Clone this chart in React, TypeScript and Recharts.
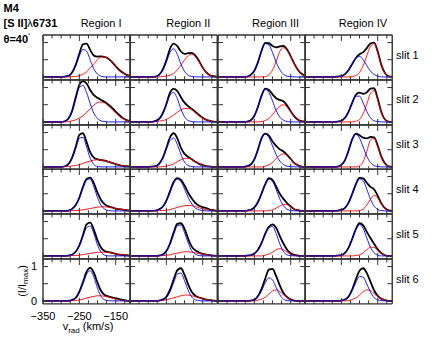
import { Line, LineChart, XAxis, YAxis } from "recharts";

// radial velocity grid (km/s) shared by every profile
const vRad = [-350, -300, -290, -280, -270, -260, -250, -240, -230, -220, -210, -200, -190, -180, -170, -160, -150, -140, -130, -120, -110];

const regions = ["Region I", "Region II", "Region III", "Region IV"];
const slits = ["slit 1", "slit 2", "slit 3", "slit 4", "slit 5", "slit 6"];

const xTickValues = [-350, -325, -300, -275, -250, -225, -200, -175, -150, -125];
const xMajor = [-350, -250, -150];
const yTickValues = [0, 0.5, 1];
const xLabels = [-350, -250, -150];
const yLabels = [0, 1];

// each slit: one profile per region (I..IV)
const slit1Total = [
  [0, 0, 0.01, 0.03, 0.13, 0.35, 0.68, 0.95, 0.97, 0.78, 0.62, 0.59, 0.6, 0.58, 0.53, 0.43, 0.31, 0.2, 0.12, 0.06, 0.03],
  [0, 0, 0, 0.01, 0.06, 0.21, 0.48, 0.82, 0.97, 0.9, 0.74, 0.67, 0.69, 0.7, 0.62, 0.46, 0.27, 0.13, 0.05, 0.02, 0],
  [0, 0, 0, 0, 0.01, 0.06, 0.18, 0.43, 0.77, 0.99, 0.98, 0.9, 0.86, 0.89, 0.9, 0.8, 0.6, 0.38, 0.2, 0.09, 0.03],
  [0, 0, 0, 0, 0, 0.01, 0.02, 0.08, 0.2, 0.38, 0.55, 0.66, 0.72, 0.84, 0.97, 1.0, 0.74, 0.35, 0.11, 0.02, 0],
];
const slit1Blue = [
  [0, 0, 0.01, 0.03, 0.12, 0.33, 0.61, 0.8, 0.75, 0.49, 0.23, 0.08, 0.02, 0, 0, 0, 0, 0, 0, 0, 0],
  [0, 0, 0, 0.01, 0.06, 0.19, 0.44, 0.71, 0.82, 0.66, 0.38, 0.16, 0.05, 0.01, 0, 0, 0, 0, 0, 0, 0],
  [0, 0, 0, 0, 0.01, 0.06, 0.18, 0.43, 0.76, 0.97, 0.93, 0.71, 0.43, 0.21, 0.08, 0.02, 0.01, 0, 0, 0, 0],
  [0, 0, 0, 0, 0, 0.01, 0.02, 0.08, 0.2, 0.38, 0.55, 0.6, 0.5, 0.33, 0.17, 0.07, 0.02, 0, 0, 0, 0],
];
const slit1Red = [
  [0, 0, 0, 0, 0.01, 0.01, 0.04, 0.08, 0.15, 0.26, 0.38, 0.5, 0.58, 0.58, 0.53, 0.43, 0.31, 0.2, 0.12, 0.06, 0.03],
  [0, 0, 0, 0, 0, 0.01, 0.02, 0.05, 0.1, 0.2, 0.34, 0.49, 0.61, 0.66, 0.59, 0.44, 0.26, 0.13, 0.05, 0.02, 0],
  [0, 0, 0, 0, 0, 0, 0, 0, 0, 0.01, 0.06, 0.2, 0.45, 0.74, 0.85, 0.77, 0.58, 0.37, 0.2, 0.09, 0.03],
  [0, 0, 0, 0, 0, 0, 0, 0, 0, 0.01, 0.04, 0.13, 0.33, 0.62, 0.89, 0.97, 0.7, 0.33, 0.1, 0.02, 0],
];

const slit2Total = [
  [0, 0, 0.02, 0.1, 0.32, 0.72, 1.08, 1.19, 1.12, 0.92, 0.78, 0.7, 0.64, 0.58, 0.5, 0.41, 0.3, 0.2, 0.11, 0.05, 0.02],
  [0, 0, 0, 0.03, 0.09, 0.25, 0.52, 0.85, 0.96, 0.9, 0.72, 0.56, 0.46, 0.38, 0.29, 0.2, 0.12, 0.06, 0.03, 0.01, 0],
  [0, 0, 0, 0, 0.01, 0.05, 0.18, 0.44, 0.77, 0.97, 0.93, 0.8, 0.69, 0.64, 0.6, 0.48, 0.31, 0.16, 0.06, 0.02, 0.01],
  [0, 0, 0, 0, 0, 0.01, 0.03, 0.12, 0.3, 0.56, 0.79, 0.85, 0.82, 0.86, 0.97, 0.98, 0.68, 0.29, 0.07, 0.01, 0],
];
const slit2Blue = [
  [0, 0, 0.02, 0.09, 0.29, 0.66, 1.0, 1.06, 0.85, 0.53, 0.25, 0.1, 0.03, 0.01, 0, 0, 0, 0, 0, 0, 0],
  [0, 0, 0, 0.02, 0.07, 0.22, 0.49, 0.78, 0.86, 0.68, 0.38, 0.15, 0.04, 0.01, 0, 0, 0, 0, 0, 0, 0],
  [0, 0, 0, 0, 0.01, 0.05, 0.18, 0.44, 0.77, 0.95, 0.86, 0.61, 0.33, 0.14, 0.05, 0.01, 0, 0, 0, 0, 0],
  [0, 0, 0, 0, 0, 0.01, 0.03, 0.12, 0.3, 0.55, 0.75, 0.75, 0.55, 0.3, 0.12, 0.03, 0.01, 0, 0, 0, 0],
];
const slit2Red = [
  [0, 0, 0, 0.01, 0.03, 0.06, 0.11, 0.18, 0.28, 0.38, 0.49, 0.56, 0.58, 0.55, 0.47, 0.36, 0.26, 0.16, 0.09, 0.05, 0.02],
  [0, 0, 0, 0.01, 0.02, 0.04, 0.07, 0.13, 0.2, 0.28, 0.35, 0.39, 0.39, 0.35, 0.27, 0.18, 0.11, 0.06, 0.03, 0.01, 0],
  [0, 0, 0, 0, 0, 0, 0, 0, 0.01, 0.04, 0.1, 0.21, 0.35, 0.46, 0.5, 0.43, 0.29, 0.15, 0.06, 0.02, 0.01],
  [0, 0, 0, 0, 0, 0, 0, 0, 0, 0, 0.02, 0.07, 0.24, 0.52, 0.83, 0.91, 0.63, 0.27, 0.06, 0.01, 0],
];

const slit3Total = [
  [0, 0, 0.02, 0.08, 0.27, 0.58, 0.93, 0.98, 0.72, 0.42, 0.27, 0.22, 0.2, 0.18, 0.15, 0.12, 0.08, 0.05, 0.03, 0.02, 0.01],
  [0, 0, 0.01, 0.02, 0.09, 0.26, 0.55, 0.86, 0.98, 0.84, 0.56, 0.38, 0.29, 0.22, 0.15, 0.09, 0.05, 0.02, 0.01, 0, 0],
  [0, 0, 0, 0, 0.02, 0.07, 0.22, 0.51, 0.84, 0.97, 0.91, 0.74, 0.61, 0.51, 0.45, 0.35, 0.23, 0.11, 0.05, 0.01, 0],
  [0, 0, 0, 0, 0, 0.01, 0.06, 0.2, 0.48, 0.81, 0.97, 0.92, 0.85, 0.83, 0.87, 0.86, 0.62, 0.3, 0.1, 0.02, 0],
];
const slit3Blue = [
  [0, 0, 0.01, 0.07, 0.24, 0.54, 0.83, 0.86, 0.58, 0.25, 0.07, 0.01, 0, 0, 0, 0, 0, 0, 0, 0, 0],
  [0, 0, 0.01, 0.02, 0.09, 0.25, 0.52, 0.77, 0.84, 0.66, 0.37, 0.14, 0.04, 0.01, 0, 0, 0, 0, 0, 0, 0],
  [0, 0, 0, 0, 0.02, 0.07, 0.22, 0.51, 0.84, 0.96, 0.85, 0.61, 0.36, 0.17, 0.07, 0.02, 0.01, 0, 0, 0, 0],
  [0, 0, 0, 0, 0, 0.01, 0.06, 0.2, 0.47, 0.8, 0.95, 0.84, 0.58, 0.31, 0.13, 0.04, 0.01, 0, 0, 0, 0],
];
const slit3Red = [
  [0, 0, 0.01, 0.01, 0.03, 0.04, 0.07, 0.1, 0.14, 0.17, 0.2, 0.21, 0.2, 0.18, 0.15, 0.12, 0.08, 0.05, 0.03, 0.02, 0.01],
  [0, 0, 0, 0, 0, 0.01, 0.02, 0.05, 0.09, 0.15, 0.21, 0.25, 0.25, 0.21, 0.15, 0.09, 0.05, 0.02, 0.01, 0, 0],
  [0, 0, 0, 0, 0, 0, 0, 0, 0, 0.02, 0.06, 0.13, 0.24, 0.34, 0.38, 0.33, 0.22, 0.11, 0.05, 0.01, 0],
  [0, 0, 0, 0, 0, 0, 0, 0, 0, 0, 0, 0.03, 0.15, 0.45, 0.78, 0.83, 0.59, 0.28, 0.09, 0.02, 0],
];

const slit4Total = [
  [0, 0, 0, 0.01, 0.06, 0.17, 0.39, 0.7, 0.93, 0.97, 0.8, 0.53, 0.31, 0.19, 0.13, 0.1, 0.07, 0.05, 0.04, 0.02, 0.01],
  [0, 0, 0, 0.01, 0.05, 0.12, 0.3, 0.57, 0.84, 0.95, 0.9, 0.74, 0.53, 0.36, 0.23, 0.15, 0.11, 0.08, 0.04, 0.02, 0],
  [0, 0, 0, 0, 0.01, 0.03, 0.1, 0.26, 0.51, 0.78, 0.95, 0.9, 0.71, 0.5, 0.35, 0.23, 0.13, 0.05, 0.02, 0, 0],
  [0, 0, 0, 0, 0, 0.01, 0.03, 0.09, 0.24, 0.5, 0.78, 0.96, 0.95, 0.82, 0.7, 0.63, 0.44, 0.22, 0.08, 0.02, 0],
];
const slit4Blue = [
  [0, 0, 0, 0.01, 0.05, 0.16, 0.37, 0.67, 0.9, 0.93, 0.7, 0.39, 0.16, 0.05, 0.01, 0, 0, 0, 0, 0, 0],
  [0, 0, 0, 0.01, 0.04, 0.11, 0.28, 0.53, 0.8, 0.93, 0.86, 0.64, 0.39, 0.2, 0.08, 0.03, 0.01, 0, 0, 0, 0],
  [0, 0, 0, 0, 0.01, 0.03, 0.1, 0.26, 0.51, 0.78, 0.93, 0.86, 0.62, 0.35, 0.15, 0.05, 0.01, 0, 0, 0, 0],
  [0, 0, 0, 0, 0, 0.01, 0.03, 0.09, 0.24, 0.49, 0.76, 0.93, 0.88, 0.63, 0.34, 0.14, 0.04, 0.01, 0, 0, 0],
];
const slit4Red = [
  [0, 0, 0, 0, 0.01, 0.01, 0.02, 0.03, 0.05, 0.07, 0.09, 0.11, 0.12, 0.12, 0.11, 0.09, 0.07, 0.05, 0.04, 0.02, 0.01],
  [0, 0, 0, 0, 0.01, 0.01, 0.02, 0.04, 0.07, 0.1, 0.13, 0.15, 0.16, 0.15, 0.13, 0.09, 0.06, 0.04, 0.02, 0.01, 0],
  [0, 0, 0, 0, 0, 0, 0, 0, 0, 0, 0.01, 0.03, 0.08, 0.14, 0.19, 0.18, 0.12, 0.05, 0.02, 0, 0],
  [0, 0, 0, 0, 0, 0, 0, 0, 0, 0, 0, 0.01, 0.05, 0.17, 0.34, 0.45, 0.38, 0.2, 0.07, 0.02, 0],
];

const slit5Total = [
  [0, 0, 0, 0.01, 0.04, 0.12, 0.31, 0.61, 0.92, 0.97, 0.76, 0.45, 0.24, 0.14, 0.11, 0.09, 0.06, 0.04, 0.03, 0.02, 0.01],
  [0, 0, 0, 0, 0.01, 0.04, 0.14, 0.36, 0.68, 0.93, 0.95, 0.79, 0.5, 0.27, 0.16, 0.1, 0.06, 0.04, 0.02, 0.01, 0],
  [0, 0, 0, 0, 0.01, 0.02, 0.07, 0.18, 0.38, 0.65, 0.85, 0.92, 0.82, 0.58, 0.36, 0.18, 0.08, 0.03, 0.01, 0, 0],
  [0, 0, 0, 0, 0, 0.01, 0.02, 0.09, 0.24, 0.5, 0.78, 0.95, 0.89, 0.7, 0.52, 0.35, 0.19, 0.08, 0.02, 0, 0],
];
const slit5Blue = [
  [0, 0, 0, 0.01, 0.03, 0.11, 0.29, 0.57, 0.82, 0.87, 0.64, 0.32, 0.11, 0.02, 0, 0, 0, 0, 0, 0, 0],
  [0, 0, 0, 0, 0.01, 0.03, 0.12, 0.33, 0.62, 0.87, 0.9, 0.68, 0.38, 0.15, 0.05, 0.01, 0, 0, 0, 0, 0],
  [0, 0, 0, 0, 0.01, 0.02, 0.07, 0.18, 0.38, 0.63, 0.82, 0.86, 0.65, 0.35, 0.13, 0.03, 0.01, 0, 0, 0, 0],
  [0, 0, 0, 0, 0, 0.01, 0.02, 0.09, 0.24, 0.5, 0.77, 0.91, 0.8, 0.52, 0.25, 0.09, 0.02, 0, 0, 0, 0],
];
const slit5Red = [
  [0, 0, 0, 0, 0.01, 0.01, 0.02, 0.04, 0.06, 0.07, 0.09, 0.1, 0.11, 0.11, 0.1, 0.08, 0.06, 0.04, 0.03, 0.02, 0.01],
  [0, 0, 0, 0, 0, 0.01, 0.02, 0.03, 0.06, 0.08, 0.1, 0.12, 0.12, 0.11, 0.09, 0.07, 0.04, 0.03, 0.01, 0.01, 0],
  [0, 0, 0, 0, 0, 0, 0, 0, 0, 0.02, 0.05, 0.11, 0.18, 0.21, 0.18, 0.11, 0.05, 0.02, 0, 0, 0],
  [0, 0, 0, 0, 0, 0, 0, 0, 0, 0, 0.01, 0.03, 0.09, 0.18, 0.26, 0.25, 0.16, 0.07, 0.02, 0, 0],
];

const slit6Total = [
  [0, 0, 0, 0, 0.03, 0.09, 0.27, 0.55, 0.85, 0.96, 0.82, 0.53, 0.29, 0.17, 0.13, 0.1, 0.08, 0.05, 0.03, 0.01, 0],
  [0, 0, 0, 0, 0.01, 0.04, 0.12, 0.32, 0.62, 0.89, 0.95, 0.76, 0.48, 0.26, 0.15, 0.1, 0.07, 0.04, 0.02, 0.01, 0],
  [0, 0, 0, 0, 0, 0.01, 0.03, 0.14, 0.35, 0.65, 0.91, 0.93, 0.72, 0.45, 0.23, 0.11, 0.04, 0.01, 0, 0, 0],
  [0, 0, 0, 0, 0, 0, 0.01, 0.04, 0.13, 0.34, 0.63, 0.88, 0.95, 0.81, 0.56, 0.31, 0.15, 0.06, 0.02, 0, 0],
];
const slit6Blue = [
  [0, 0, 0, 0, 0.02, 0.08, 0.24, 0.5, 0.78, 0.88, 0.69, 0.37, 0.13, 0.03, 0.01, 0, 0, 0, 0, 0, 0],
  [0, 0, 0, 0, 0, 0.02, 0.09, 0.26, 0.53, 0.78, 0.81, 0.59, 0.31, 0.11, 0.03, 0.01, 0, 0, 0, 0, 0],
  [0, 0, 0, 0, 0, 0.01, 0.03, 0.12, 0.3, 0.53, 0.67, 0.61, 0.39, 0.18, 0.05, 0.01, 0, 0, 0, 0, 0],
  [0, 0, 0, 0, 0, 0, 0.01, 0.04, 0.12, 0.3, 0.54, 0.71, 0.69, 0.49, 0.26, 0.1, 0.03, 0.01, 0, 0, 0],
];
const slit6Red = [
  [0, 0, 0, 0, 0.01, 0.01, 0.03, 0.05, 0.08, 0.11, 0.13, 0.15, 0.15, 0.13, 0.11, 0.08, 0.05, 0.03, 0.01, 0.01, 0],
  [0, 0, 0, 0, 0.01, 0.02, 0.03, 0.06, 0.09, 0.12, 0.15, 0.17, 0.17, 0.15, 0.12, 0.09, 0.06, 0.03, 0.02, 0.01, 0],
  [0, 0, 0, 0, 0, 0, 0, 0.02, 0.05, 0.11, 0.2, 0.29, 0.32, 0.27, 0.18, 0.1, 0.04, 0.01, 0, 0, 0],
  [0, 0, 0, 0, 0, 0, 0, 0, 0.01, 0.04, 0.09, 0.17, 0.27, 0.32, 0.3, 0.21, 0.12, 0.05, 0.02, 0, 0],
];

const totals = [slit1Total, slit2Total, slit3Total, slit4Total, slit5Total, slit6Total];
const blues = [slit1Blue, slit2Blue, slit3Blue, slit4Blue, slit5Blue, slit6Blue];
const reds = [slit1Red, slit2Red, slit3Red, slit4Red, slit5Red, slit6Red];

const FRAME = "#333";
const FONT = '"Liberation Sans", Arial, Helvetica, sans-serif';
const X_DOMAIN = [-350, -110];
const Y_DOMAIN = [-0.085, 1.22];
const PW = 87.25;
const PH = 44.83;
const X0 = 43;
const Y0 = 35;

// tick marks drawn inward from the frame
const xMark = (dir: number) => (props: any) => {
  const len = xMajor.includes(props.payload.value) ? 6 : 3.5;
  return <line x1={props.x} x2={props.x} y1={props.y} y2={props.y + dir * len} stroke={FRAME} strokeWidth={1} />;
};
const yMark = (dir: number) => (props: any) => (
  <line x1={props.x} x2={props.x + dir * 5} y1={props.y} y2={props.y} stroke={FRAME} strokeWidth={1} />
);

const minus = (v: number) => String(v).replace("-", "\u2212");

function Panel({ row, col }: { row: number; col: number }) {
  const t = totals[row][col];
  const b = blues[row][col];
  const r = reds[row][col];
  const data = vRad.map((v, i) => ({ v, total: t[i], blue: b[i], red: r[i] }));
  const labelled = row === 5 && col === 0;
  const padL = labelled ? 30 : 0;
  const padB = labelled ? 28 : 0;
  const frame = { stroke: FRAME, strokeWidth: 1.4 };

  return (
    <div style={{ position: "absolute", left: X0 + col * PW - 1 - padL, top: Y0 + row * PH - 1 }}>
      <LineChart
        width={PW + 2 + padL}
        height={PH + 2 + padB}
        data={data}
        margin={{ top: 1, right: 1, bottom: 1, left: 1 }}
      >
        <XAxis xAxisId="b" type="number" dataKey="v" domain={X_DOMAIN} allowDataOverflow orientation="bottom" mirror
          ticks={xTickValues} interval={0} tickSize={0} tickMargin={0} tickLine={false} tick={xMark(-1)} axisLine={frame} />
        <XAxis xAxisId="t" type="number" dataKey="v" domain={X_DOMAIN} allowDataOverflow orientation="top" mirror
          ticks={xTickValues} interval={0} tickSize={0} tickMargin={0} tickLine={false} tick={xMark(1)} axisLine={frame} />
        <YAxis yAxisId="l" type="number" domain={Y_DOMAIN} allowDataOverflow orientation="left" mirror
          ticks={yTickValues} interval={0} tickSize={0} tickMargin={0} tickLine={false} tick={yMark(1)} axisLine={frame} />
        <YAxis yAxisId="r" type="number" domain={Y_DOMAIN} allowDataOverflow orientation="right" mirror
          ticks={yTickValues} interval={0} tickSize={0} tickMargin={0} tickLine={false} tick={yMark(-1)} axisLine={frame} />
        {labelled && (
          <XAxis xAxisId="lab" type="number" dataKey="v" domain={X_DOMAIN} allowDataOverflow orientation="bottom" height={28}
            ticks={xLabels} interval={0} tickSize={0} tickMargin={8} tickLine={false} axisLine={false}
            tickFormatter={minus} tick={{ fontSize: 11, fill: "#000", fontFamily: FONT }} />
        )}
        {labelled && (
          <YAxis yAxisId="lab" type="number" domain={Y_DOMAIN} allowDataOverflow orientation="left" width={30}
            ticks={yLabels} interval={0} tickSize={0} tickMargin={6} tickLine={false} axisLine={false}
            tick={{ fontSize: 11, fill: "#000", fontFamily: FONT }} />
        )}
        <Line xAxisId="b" yAxisId="l" type="monotone" dataKey="total" stroke="#000" strokeWidth={1.8} dot={false} isAnimationActive={false} />
        <Line xAxisId="b" yAxisId="l" type="monotone" dataKey="red" stroke="#ff0000" strokeWidth={0.9} dot={false} isAnimationActive={false} />
        <Line xAxisId="b" yAxisId="l" type="monotone" dataKey="blue" stroke="#0000ff" strokeWidth={0.9} dot={false} isAnimationActive={false} />
      </LineChart>
    </div>
  );
}

export default function App() {
  return (
    <div style={{ position: "absolute", left: 0, top: 0, width: 436, height: 349, background: "#fff", fontFamily: FONT }}>
      <svg width={436} height={349} style={{ position: "absolute", left: 0, top: 0 }} fontFamily={FONT} fontSize={11} fill="#000">
        <text x={3.5} y={12} fontWeight="bold">M4</text>
        <text x={3.5} y={27} fontWeight="bold">
          [S II]<tspan fontWeight="normal">λ</tspan>6731
        </text>
        <text x={3.5} y={43} fontWeight="bold">
          θ=40<tspan dy={-6} fontSize={6} fontWeight="normal">°</tspan>
        </text>
        {regions.map((name, c) => (
          <text key={name} x={X0 + c * PW + PW / 2 + 14.5} y={27.3} textAnchor="middle">{name}</text>
        ))}
        {slits.map((name, r) => (
          <text key={name} x={396} y={Y0 + r * PH + 23.5}>{name}</text>
        ))}
        <text transform="translate(25.5,281) rotate(-90)" textAnchor="middle">
          (I/I<tspan dy={2.5} fontSize={8}>max</tspan><tspan dy={-2.5}>)</tspan>
        </text>
        <text x={88} y={330} textAnchor="middle">
          v<tspan dy={3} fontSize={8}>rad</tspan><tspan dy={-3}> (km/s)</tspan>
        </text>
      </svg>
      {slits.map((_, r) =>
        regions.map((__, c) => <Panel key={`${r}-${c}`} row={r} col={c} />)
      )}
    </div>
  );
}
